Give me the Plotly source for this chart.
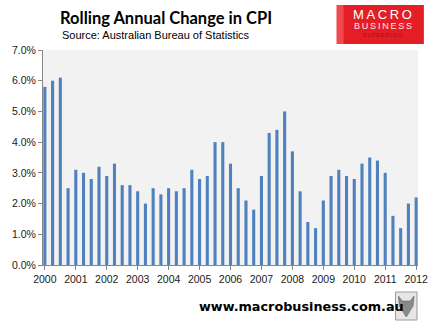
import plotly.graph_objects as go

# ---- data ----
start_year = 2000
quarters_per_year = 4
cpi_change = [5.8, 6.0, 6.1, 2.5, 3.1, 3.0, 2.8, 3.2, 2.9, 3.3, 2.6, 2.6,
              2.4, 2.0, 2.5, 2.3, 2.5, 2.4, 2.5, 3.1, 2.8, 2.9, 4.0, 4.0,
              3.3, 2.5, 2.1, 1.8, 2.9, 4.3, 4.4, 5.0, 3.7, 2.4, 1.4, 1.2,
              2.1, 2.9, 3.1, 2.9, 2.8, 3.3, 3.5, 3.4, 3.0, 1.6, 1.2, 2.0, 2.2]
x_dates = [start_year + i / quarters_per_year for i in range(len(cpi_change))]
year_ticks = list(range(2000, 2013))
year_labels = [str(y) for y in year_ticks]
y_ticks = [0, 1, 2, 3, 4, 5, 6, 7]
y_labels = [f"{v:.1f}%" for v in y_ticks]

W, H = 440, 326
L, R, T, B = 43, 426, 50, 265


def px(x):
    return (x - L) / (R - L)


def py(y):
    return (B - y) / (B - T)


fig = go.Figure()
fig.add_trace(go.Bar(x=x_dates, y=cpi_change, width=0.1,
                     marker=dict(color="#4F81BD", line=dict(width=0))))

axis_font = dict(family="Liberation Sans, Arial, sans-serif", size=10.5, color="#1a1a1a")

fig.update_layout(
    width=W, height=H,
    margin=dict(l=L, r=W - R, t=T, b=H - B),
    paper_bgcolor="white", plot_bgcolor="#F2F2F2",
    showlegend=False,
    xaxis=dict(range=[1999.94, 2012.06], tickvals=year_ticks, ticktext=year_labels,
               showgrid=False, zeroline=False, showline=True, linecolor="#868686",
               linewidth=1, ticks="outside", ticklen=4, tickcolor="#868686",
               tickfont=axis_font, fixedrange=True),
    yaxis=dict(range=[0, 7], tickvals=y_ticks, ticktext=y_labels,
               showgrid=False, zeroline=False, showline=True, linecolor="#868686",
               linewidth=1, ticks="outside", ticklen=4, tickcolor="#868686",
               tickfont=axis_font, fixedrange=True),
)

annotations = [
    dict(text="<b>Rolling Annual Change in CPI</b>", x=px(58), y=py(18),
         font=dict(family="Lato, Calibri, sans-serif", size=16.5, color="black")),
    dict(text="Source: Australian Bureau of Statistics", x=px(60), y=py(35),
         font=dict(family="Liberation Sans, Arial, sans-serif", size=11, color="black")),
    dict(text="<b>www.macrobusiness.com.au</b>", x=px(200), y=py(306),
         font=dict(family="DejaVu Sans, Verdana, sans-serif", size=12.8, color="black")),
]
for a in annotations:
    a.update(xref="paper", yref="paper", xanchor="left", yanchor="middle",
             showarrow=False)

# logo text
logo = [
    ("M\u2009A\u2009C\u2009R\u2009O", 15, 13, "white"),
    ("B\u2009U\u2009S\u2009I\u2009N\u2009E\u2009S\u2009S", 26.5, 9, "#fde6e6"),
    ("S\u2009U\u2009P\u2009E\u2009R\u2009B\u2009L\u2009O\u2009G", 35, 5, "#a01010"),
]
for txt, yy, sz, col in logo:
    annotations.append(dict(text=txt, x=px(390), y=py(yy), xref="paper", yref="paper",
                            xanchor="center", yanchor="middle", showarrow=False,
                            font=dict(family="Liberation Sans, Arial, sans-serif",
                                      size=sz, color=col)))
fig.update_layout(annotations=annotations)

shapes = [
    dict(type="rect", xref="paper", yref="paper", x0=px(343), x1=px(432),
         y0=py(44), y1=py(5), fillcolor="#E31E25", line=dict(width=0), layer="below"),
    dict(type="rect", xref="paper", yref="paper", x0=px(343), x1=px(350),
         y0=py(44), y1=py(5), fillcolor="#F04A4F", line=dict(width=0), layer="below"),
    dict(type="rect", xref="paper", yref="paper", x0=px(403), x1=px(425),
         y0=py(320), y1=py(292), fillcolor="#E6E6E6",
         line=dict(width=1, color="#9a9a9a")),
    dict(type="path", xref="paper", yref="paper",
         path=(f"M {px(406)},{py(296)} L {px(410)},{py(301)} L {px(418)},{py(301)} "
               f"L {px(422)},{py(296)} L {px(421)},{py(306)} L {px(414)},{py(317)} "
               f"L {px(407)},{py(306)} Z"),
         fillcolor="#8a8a8a", line=dict(width=0.5, color="#555555")),
]
fig.update_layout(shapes=shapes)

fig.write_html("out.html")
